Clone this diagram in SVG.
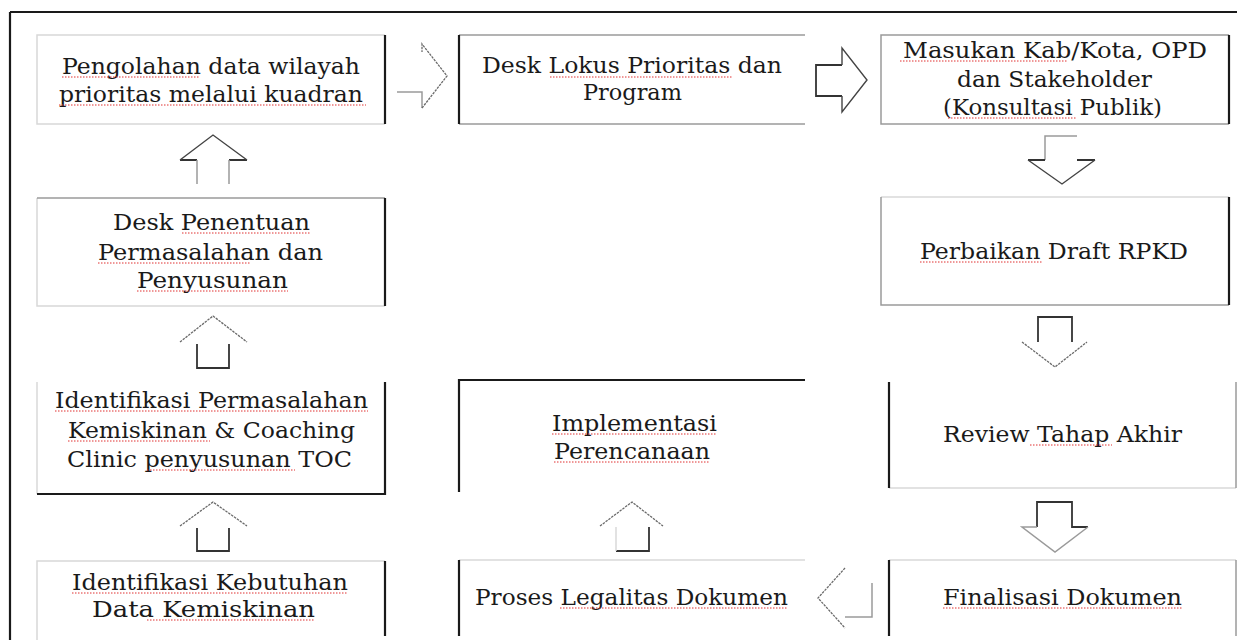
<svg xmlns="http://www.w3.org/2000/svg" width="1237" height="640" viewBox="0 0 1237 640">
<style>
.t{font-family:"DejaVu Serif","Liberation Serif",serif;font-size:22px;fill:#1a1a1a;text-anchor:middle}
.lg{stroke:#d8d8d8;stroke-width:1.5;fill:none}
.md{stroke:#9a9a9a;stroke-width:1.5;fill:none}
.bk{stroke:#1a1a1a;stroke-width:2.2;fill:none}
.ag{stroke:#6a6a6a;stroke-width:1.3;fill:none;stroke-dasharray:2.5 1}
.as{stroke:#444;stroke-width:1.4;fill:none}
.ad{stroke:#333;stroke-width:1.8;fill:none}
.sq{stroke:#e03030;stroke-width:1;fill:none;stroke-dasharray:1.5 1.5}
</style>
<rect x="0" y="0" width="1237" height="640" fill="#fff"/>
<g id="frame"><path class="bk" d="M10 12 H1237 M10 12 V640"/></g>

<g id="n1">
<path class="lg" d="M385 35 H37 V124 H385"/>
<path class="bk" d="M385 35 V124"/>
<text class="t" x="211" y="74" textLength="298" lengthAdjust="spacingAndGlyphs">Pengolahan data wilayah</text>
<text class="t" x="211" y="102" textLength="304" lengthAdjust="spacingAndGlyphs">prioritas melalui kuadran</text>
<path class="sq" d="M62 77 H200 M59 105 H366"/>
</g>

<g id="n2">
<path class="md" d="M459 35 H805 M459 124 H805"/>
<path class="bk" d="M459 35 V124"/>
<text class="t" x="632" y="73" textLength="300" lengthAdjust="spacingAndGlyphs">Desk Lokus Prioritas dan</text>
<text class="t" x="632.5" y="100" textLength="99" lengthAdjust="spacingAndGlyphs">Program</text>
<path class="sq" d="M550 77 H732"/>
</g>

<g id="n3">
<path class="md" d="M1229 35 H881 V124 H1229"/>
<path class="bk" d="M1229 35 V124"/>
<text class="t" x="1055" y="58" textLength="304" lengthAdjust="spacingAndGlyphs">Masukan Kab/Kota, OPD</text>
<text class="t" x="1054.5" y="87" textLength="195" lengthAdjust="spacingAndGlyphs">dan Stakeholder</text>
<text class="t" x="1052.5" y="115" textLength="219" lengthAdjust="spacingAndGlyphs">(Konsultasi Publik)</text>
<path class="sq" d="M900 61 H1068 M948 118 H1077"/>
</g>

<g id="n4">
<path class="lg" d="M385 306 H37 V198"/>
<path class="md" d="M37 198 H385"/>
<path class="bk" d="M385 198 V306"/>
<text class="t" x="211.5" y="230" textLength="197" lengthAdjust="spacingAndGlyphs">Desk Penentuan</text>
<text class="t" x="210.5" y="260" textLength="225" lengthAdjust="spacingAndGlyphs">Permasalahan dan</text>
<text class="t" x="212.5" y="288" textLength="151" lengthAdjust="spacingAndGlyphs">Penyusunan</text>
<path class="sq" d="M182 233 H310 M98 263 H250 M137 291 H288"/>
</g>

<g id="n5">
<path class="lg" d="M881 197 H1229"/>
<path class="md" d="M881 197 V305 H1229"/>
<path class="bk" d="M1229 197 V305"/>
<text class="t" x="1054" y="259" textLength="268" lengthAdjust="spacingAndGlyphs">Perbaikan Draft RPKD</text>
<path class="sq" d="M920 262 H1042"/>
</g>

<g id="n6">
<path class="lg" d="M37 382 V494"/>
<path class="bk" d="M385 382 V494 H37"/>
<text class="t" x="211.5" y="408" textLength="313" lengthAdjust="spacingAndGlyphs">Identifikasi Permasalahan</text>
<text class="t" x="211.5" y="438" textLength="287" lengthAdjust="spacingAndGlyphs">Kemiskinan &amp; Coaching</text>
<text class="t" x="209.5" y="467" textLength="285" lengthAdjust="spacingAndGlyphs">Clinic penyusunan TOC</text>
<path class="sq" d="M55 411 H368 M68 441 H210 M147 470 H295"/>
</g>

<g id="n7">
<path class="lg" d="M37 640 V561 H385"/>
<path class="bk" d="M385 561 V636"/>
<text class="t" x="210" y="590" textLength="276" lengthAdjust="spacingAndGlyphs">Identifikasi Kebutuhan</text>
<text class="t" x="203.5" y="617" textLength="223" lengthAdjust="spacingAndGlyphs">Data Kemiskinan</text>
<path class="sq" d="M72 593 H348 M147 620 H315"/>
</g>

<g id="n8">
<path class="bk" d="M459 492 V380 H805"/>
<text class="t" x="634.5" y="431" textLength="165" lengthAdjust="spacingAndGlyphs">Implementasi</text>
<text class="t" x="632" y="459" textLength="156" lengthAdjust="spacingAndGlyphs">Perencanaan</text>
<path class="sq" d="M552 434 H717 M554 462 H710"/>
</g>

<g id="n9">
<path class="lg" d="M459 560 H805"/>
<path class="bk" d="M459 560 V636"/>
<text class="t" x="631.5" y="605" textLength="313" lengthAdjust="spacingAndGlyphs">Proses Legalitas Dokumen</text>
<path class="sq" d="M560 608 H788"/>
</g>

<g id="n10">
<path class="lg" d="M889 488 H1236"/>
<path class="md" d="M1236 382 V488"/>
<path class="bk" d="M889 382 V488"/>
<text class="t" x="1062.5" y="442" textLength="239" lengthAdjust="spacingAndGlyphs">Review Tahap Akhir</text>
<path class="sq" d="M1030 445 H1112"/>
</g>

<g id="n11">
<path class="lg" d="M889 560 H1236"/>
<path class="md" d="M1236 560 V636"/>
<path class="bk" d="M889 560 V636"/>
<text class="t" x="1062.5" y="605" textLength="239" lengthAdjust="spacingAndGlyphs">Finalisasi Dokumen</text>
<path class="sq" d="M943 608 H1182"/>
</g>

<g id="connectors">
<!-- n1 -> n2 -->
<path class="md" d="M397 92 H422 V108"/>
<path class="ag" d="M422 108 L447 76 L422 44 V52"/>
<!-- n2 -> n3 -->
<path class="ad" d="M842 65 H816 V96 H842"/>
<path class="as" d="M842 65 V48 L867 80 L842 112 V96"/>
<!-- n3 -> n4 -->
<path class="md" d="M1045 160 V136 H1077"/>
<path class="ad" d="M1045 160 H1028 M1077 160 H1095"/>
<path class="as" d="M1028 160 L1062 184 L1095 160"/>
<!-- n4 -> n10 -->
<path class="ad" d="M1038 342 V317 H1072 V342"/>
<path class="ag" d="M1022 342 L1055 367 L1087 342"/>
<!-- n10 -> n11 -->
<path class="ad" d="M1037 527 V502 H1072 V527 H1088"/>
<path class="md" d="M1037 527 H1022 L1055 552 L1088 527"/>
<!-- n11 -> n9 -->
<path class="md" d="M872 583 V617 H845"/>
<path class="ag" d="M845 568 L818 598 L845 628"/>
<!-- n9 -> n8 -->
<path class="ad" d="M649 527 V551 H616"/>
<path class="lg" d="M616 551 V527"/>
<path class="ag" d="M600 526 L632 502 L663 526"/>
<!-- n7 -> n6 -->
<path class="ad" d="M197 528 V551 H229 V528"/>
<path class="ag" d="M180 526 L213 502 L247 526"/>
<!-- n6 -> n4 -->
<path class="ad" d="M197 344 V368 H229 V344"/>
<path class="ag" d="M180 342 L213 316 L247 342"/>
<!-- n4 -> n1 -->
<path class="ad" d="M180 160 H197 M229 160 H247"/>
<path class="md" d="M197 160 V184 M229 160 V184"/>
<path class="as" d="M180 160 L213 135 L247 160"/>
</g>
</svg>
